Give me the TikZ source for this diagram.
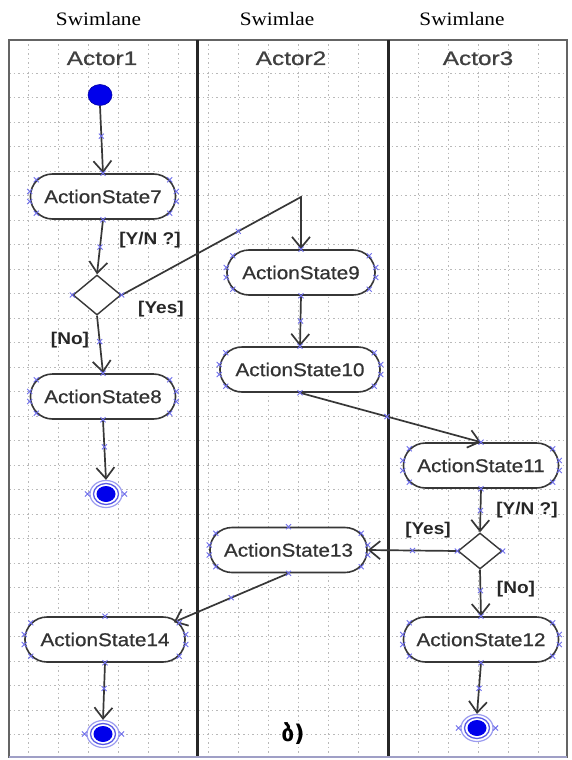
\documentclass[tikz,border=0pt]{standalone}
\usepackage{fontspec}
\usetikzlibrary{arrows.meta,shapes.geometric,shapes.misc,calc}
\newfontfamily\lsans[FakeStretch=1.12,FakeBold=0.6]{Liberation Sans}
\newfontfamily\lsansb[FakeStretch=1.12]{Liberation Sans Bold}
\newfontfamily\lsansh[FakeStretch=1.25,FakeBold=0.8]{Liberation Sans}
\newfontfamily\lserif[FakeStretch=1.12]{Liberation Serif}
\newfontfamily\geofont{DejaVu Sans Bold}
\definecolor{xblue}{RGB}{110,110,235}
\definecolor{ringblue}{RGB}{90,90,230}
\definecolor{dotblue}{RGB}{0,0,235}
\definecolor{gridc}{RGB}{185,185,185}
\definecolor{linec}{RGB}{55,55,55}
\definecolor{framec}{RGB}{100,100,100}
\tikzset{
  xmk/.pic={\draw[-,xblue,line width=0.9pt] (-2.5pt,-2.5pt)--(2.5pt,2.5pt) (-2.5pt,2.5pt)--(2.5pt,-2.5pt);},
  gridline/.style={draw=gridc,line width=0.55pt,dash pattern=on 1.5pt off 3pt},
  act/.style={draw=linec,line width=1.6pt,fill=white,rounded corners=22pt,minimum height=45pt,inner sep=0pt,
    font=\lsans\fontsize{18.5}{20}\selectfont,text=black!80},
  decision/.style={diamond,draw=linec,line width=1.4pt,fill=white,inner sep=0pt,minimum width=48pt,minimum height=40pt},
  initial/.style={ellipse,fill=dotblue,draw=dotblue!70!black,line width=0.6pt,minimum width=24pt,minimum height=21pt,inner sep=0pt},
  final/.style={ellipse,minimum width=32pt,minimum height=27pt,inner sep=0pt,draw=ringblue!60,line width=1.2pt,fill=white,
    path picture={\draw[ringblue,line width=1.3pt] (path picture bounding box.center) ellipse [x radius=12.5pt,y radius=10.5pt];
      \fill[dotblue] (path picture bounding box.center) ellipse [x radius=9.5pt,y radius=8pt];}},
  conn/.style={draw=linec,line width=1.7pt,-{Straight Barb[length=11pt,width=18pt]}},
  guard/.style={font=\lsansb\fontsize{17}{19}\selectfont,text=black!85,inner sep=0pt},
  lanehead/.style={font=\lsansh\fontsize{19.5}{21}\selectfont,text=black!75,inner sep=0pt,anchor=base},
  toplabel/.style={font=\lserif\fontsize{19}{21}\selectfont,text=black,inner sep=0pt,anchor=base}
}
\newcommand\ActMarks[1]{%
  \pic at ($(#1.west)+(0,-5)$) {xmk}; \pic at ($(#1.west)+(0,5)$) {xmk};
  \pic at ($(#1.east)+(0,-5)$) {xmk}; \pic at ($(#1.east)+(0,5)$) {xmk};
  \pic at ($(#1.north west)+(6.6,6.6)$) {xmk}; \pic at ($(#1.north east)+(-6.6,6.6)$) {xmk};
  \pic at ($(#1.south west)+(6.6,-6.6)$) {xmk}; \pic at ($(#1.south east)+(-6.6,-6.6)$) {xmk};
  \pic at (#1.north) {xmk}; \pic at (#1.south) {xmk};}
\begin{document}
\begin{tikzpicture}[x=1pt,y=-1pt]
\useasboundingbox (0,0) rectangle (571,760);
\fill[white] (0,0) rectangle (571,760);
% grid
\foreach \gx in {28,58,...,538} \draw[gridline] (\gx,40) -- (\gx,757);
\foreach \k in {0,...,27} {\pgfmathsetmacro\gy{73+24.5*\k}\draw[gridline] (9,\gy) -- (567,\gy);}
% frame and lanes
\draw[framec,line width=1.8pt] (9,40) rectangle (567,757);
\draw[black!85,line width=3pt] (197,40) -- (197,757);
\draw[black!85,line width=3pt] (388,40) -- (388,757);
\draw[blue!25!gray!60,line width=1.8pt] (9,757) -- (567,757);
% labels
\node[toplabel] (sl1) at (98.5,25.5) {Swimlane};
\node[toplabel] (sl2) at (277,25.5) {Swimlae};
\node[toplabel] (sl3) at (462,25.5) {Swimlane};
\node[lanehead] (h1) at (102,65) {Actor1};
\node[lanehead] (h2) at (291,65) {Actor2};
\node[lanehead] (h3) at (478,65) {Actor3};
% nodes
\node[initial] (init) at (100,95) {};
\node[act,minimum width=145pt] (a7) at (103,196.5) {ActionState7};
\node[decision] (d1) at (97,295) {};
\node[act,minimum width=145pt] (a8) at (103,396.5) {ActionState8};
\node[final] (f1) at (106,494) {};
\node[act,minimum width=148pt] (a9) at (301,272.5) {ActionState9};
\node[act,minimum width=160pt] (a10) at (300,369.5) {ActionState10};
\node[act,minimum width=155pt] (a11) at (481,465.5) {ActionState11};
\node[decision,minimum width=44pt,minimum height=36pt] (d2) at (480,551) {};
\node[act,minimum width=155pt] (a12) at (481,639.5) {ActionState12};
\node[final] (f2) at (477,728) {};
\node[act,minimum width=157pt] (a13) at (288.5,550) {ActionState13};
\node[act,minimum width=160pt] (a14) at (105,639.5) {ActionState14};
\node[final] (f3) at (103,734) {};
% connectors
\coordinate (c1) at (301,197);
\coordinate (a14in) at ($(a14.north east)+(-12,6)$);
\draw[conn] (init.south) -- (a7.north);
\draw[conn] (a7.south) -- (d1.north);
\draw[conn] (d1.south) -- (a8.north);
\draw[conn] (a8.south) -- (f1.north);
\draw[conn] (d1.east) -- (c1) -- (a9.north);
\draw[conn] (a9.south) -- (a10.north);
\draw[conn] (a10.south) -- (a11.north);
\draw[conn] (a11.south) -- (d2.north);
\draw[conn] (d2.south) -- (a12.north);
\draw[conn] (a12.south) -- (f2.north);
\draw[conn] (d2.west) -- (a13.east);
\draw[conn] (a13.south) -- (a14in);
\draw[conn] (a14.south) -- (f3.north);
% connector marks
\path (init.south) -- (a7.north) pic[pos=0.45]{xmk};
\path (a7.south) -- (d1.north) pic[pos=0.5]{xmk};
\path (d1.south) -- (a8.north) pic[pos=0.45]{xmk};
\path (a8.south) -- (f1.north) pic[pos=0.45]{xmk};
\path (d1.east) -- (c1) pic[pos=0.65]{xmk};
\path (a9.south) -- (a10.north) pic[pos=0.5]{xmk};
\path (a10.south) -- (a11.north) pic[pos=0.48]{xmk};
\path (a11.south) -- (d2.north) pic[pos=0.5]{xmk};
\path (d2.south) -- (a12.north) pic[pos=0.45]{xmk};
\path (a12.south) -- (f2.north) pic[pos=0.5]{xmk};
\path (d2.west) -- (a13.east) pic[pos=0.5]{xmk};
\path (a13.south) -- (a14in) pic[pos=0.5]{xmk};
\path (a14.south) -- (f3.north) pic[pos=0.45]{xmk};
% node marks
\ActMarks{a7}\ActMarks{a8}\ActMarks{a9}\ActMarks{a10}
\ActMarks{a11}\ActMarks{a12}\ActMarks{a13}\ActMarks{a14}
\foreach \d in {d1,d2}{\pic at (\d.west) {xmk}; \pic at (\d.east) {xmk};}
\foreach \f in {f1,f2,f3}{\pic at ($(\f.west)+(-2,0)$) {xmk}; \pic at ($(\f.east)+(2,0)$) {xmk};}
% guards
\node[guard] (g1) at (150,240) {[Y/N ?]};
\node[guard] (g2) at (161,309) {[Yes]};
\node[guard] (g3) at (70,340) {[No]};
\node[guard] (g4) at (527,510) {[Y/N ?]};
\node[guard] (g5) at (428,530) {[Yes]};
\node[guard] (g6) at (516,589) {[No]};
\node[font=\geofont\fontsize{23}{25}\selectfont,inner sep=0pt] (cap) at (293,734) {ბ)};
\end{tikzpicture}
\end{document}
